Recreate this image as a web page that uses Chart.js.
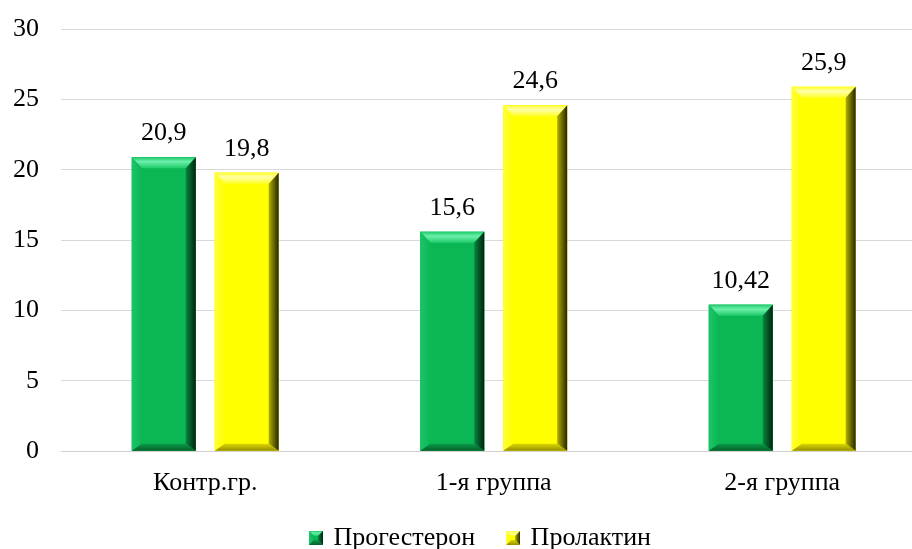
<!DOCTYPE html>
<html>
<head>
<meta charset="utf-8">
<script src="https://cdn.jsdelivr.net/npm/chart.js@4/dist/chart.umd.min.js"></script>
<style>
  html, body { margin: 0; padding: 0; background: #ffffff; overflow: hidden; }
  #wrap { width: 912px; height: 549px; overflow: hidden; }
  canvas { display: block; }
</style>
</head>
<body>
<div id="wrap"><canvas id="chart" width="930" height="549"></canvas></div>
<script>
// Groups and hormone levels
const categories = ['Контр.гр.', '1-я группа', '2-я группа'];
const seriesNames = ['Прогестерон', 'Пролактин'];
const progesterone = [20.9, 15.6, 10.42];
const prolactin = [19.8, 24.6, 25.9];
const yMin = 0;
const yMax = 30;
const yStep = 5;

const FONT = '"Liberation Serif", "Times New Roman", serif';

// Shading palettes for the bevelled bars
const palettes = [
  { face: '#0bb654', topHi: '#6cefaa', topLo: '#1fcb6a', left: '#1cc468',
    rightIn: '#06863c', rightOut: '#002410', bottomIn: '#0a9a48', bottomOut: '#046029' },
  { face: '#ffff00', topHi: '#ffffa8', topLo: '#ffff2a', left: '#ffff38',
    rightIn: '#b0b000', rightOut: '#262600', bottomIn: '#dcd600', bottomOut: '#948e00' }
];

function poly(ctx, pts, fill) {
  ctx.beginPath();
  ctx.moveTo(pts[0][0], pts[0][1]);
  for (let i = 1; i < pts.length; i++) ctx.lineTo(pts[i][0], pts[i][1]);
  ctx.closePath();
  ctx.fillStyle = fill;
  ctx.fill();
}

function drawBevel(ctx, x0, y0, x1, y1, p, bt, bs, bb) {
  const h = y1 - y0;
  bt = Math.min(bt, h / 2); bb = Math.min(bb, h / 2);
  ctx.save();
  ctx.fillStyle = p.face;
  ctx.fillRect(x0, y0, x1 - x0, y1 - y0);
  // top facet
  let g = ctx.createLinearGradient(0, y0, 0, y0 + bt);
  g.addColorStop(0, p.topLo);
  g.addColorStop(0.4, p.topHi);
  g.addColorStop(1, p.topLo);
  poly(ctx, [[x0, y0], [x1, y0], [x1 - bs, y0 + bt], [x0 + bs, y0 + bt]], g);
  // left facet
  g = ctx.createLinearGradient(x0, 0, x0 + bs, 0);
  g.addColorStop(0, p.left);
  g.addColorStop(1, p.face);
  poly(ctx, [[x0, y0], [x0 + bs, y0 + bt], [x0 + bs, y1 - bb], [x0, y1]], g);
  // bottom facet
  g = ctx.createLinearGradient(0, y1 - bb, 0, y1);
  g.addColorStop(0, p.bottomIn);
  g.addColorStop(1, p.bottomOut);
  poly(ctx, [[x0, y1], [x0 + bs, y1 - bb], [x1 - bs, y1 - bb], [x1, y1]], g);
  // right facet
  g = ctx.createLinearGradient(x1 - bs, 0, x1, 0);
  g.addColorStop(0, p.rightIn);
  g.addColorStop(1, p.rightOut);
  poly(ctx, [[x1, y0], [x1, y1], [x1 - bs, y1 - bb], [x1 - bs, y0 + bt]], g);
  ctx.restore();
}

// Legend markers: a small bevelled square at the right end of a transparent strip,
// which keeps the legend items spaced apart
function legendMarker(p) {
  const c = document.createElement('canvas');
  c.width = 37; c.height = 14;
  drawBevel(c.getContext('2d'), 23, 0, 37, 14, p, 5, 5, 5);
  return c;
}
const markers = palettes.map(legendMarker);

const bevelBars = {
  id: 'bevelBars',
  afterDatasetsDraw(chart) {
    const ctx = chart.ctx;
    chart.data.datasets.forEach((ds, di) => {
      const meta = chart.getDatasetMeta(di);
      if (meta.hidden) return;
      meta.data.forEach(bar => {
        const x0 = bar.x - bar.width / 2, x1 = bar.x + bar.width / 2;
        const y0 = Math.min(bar.y, bar.base), y1 = Math.max(bar.y, bar.base);
        drawBevel(ctx, x0, y0, x1, y1, palettes[di], 11, 10, 7);
      });
    });
  }
};

const valueLabels = {
  id: 'valueLabels',
  afterDatasetsDraw(chart) {
    const ctx = chart.ctx;
    ctx.save();
    ctx.font = '26px ' + FONT;
    ctx.fillStyle = '#000000';
    ctx.textAlign = 'center';
    ctx.textBaseline = 'alphabetic';
    chart.data.datasets.forEach((ds, di) => {
      const meta = chart.getDatasetMeta(di);
      meta.data.forEach((bar, i) => {
        const txt = String(ds.data[i]).replace('.', ',');
        ctx.fillText(txt, bar.x, bar.y - 17);
      });
    });
    ctx.restore();
  }
};

new Chart(document.getElementById('chart'), {
  type: 'bar',
  data: {
    labels: categories,
    datasets: [
      { label: seriesNames[0], data: progesterone, backgroundColor: palettes[0].face, borderWidth: 0 },
      { label: seriesNames[1], data: prolactin, backgroundColor: palettes[1].face, borderWidth: 0 }
    ]
  },
  options: {
    responsive: false,
    animation: false,
    devicePixelRatio: 1,
    categoryPercentage: 0.575,
    barPercentage: 0.771,
    layout: { padding: { left: 13, right: 3.5, top: 5, bottom: -12 } },
    plugins: {
      tooltip: { enabled: false },
      legend: {
        position: 'bottom',
        labels: {
          font: { family: FONT, size: 26 },
          color: '#000000',
          usePointStyle: true,
          pointStyleWidth: 32,
          boxHeight: 14,
          padding: 10.5,
          generateLabels(chart) {
            const items = Chart.defaults.plugins.legend.labels.generateLabels(chart);
            items.forEach((it, i) => { it.pointStyle = markers[i]; });
            return items;
          }
        }
      }
    },
    scales: {
      x: {
        grid: { display: false, drawTicks: false },
        border: { display: true, color: '#d0d0d0', width: 1 },
        ticks: { font: { family: FONT, size: 26 }, color: '#000000', padding: 16 }
      },
      y: {
        min: yMin,
        max: yMax,
        afterFit(scale) { scale.width = 48; },
        ticks: { stepSize: yStep, font: { family: FONT, size: 26, lineHeight: 0.55 }, color: '#000000', padding: 22 },
        grid: { color: '#d9d9d9', lineWidth: 1, drawTicks: false },
        border: { display: false }
      }
    }
  },
  plugins: [bevelBars, valueLabels]
});
</script>
</body>
</html>
